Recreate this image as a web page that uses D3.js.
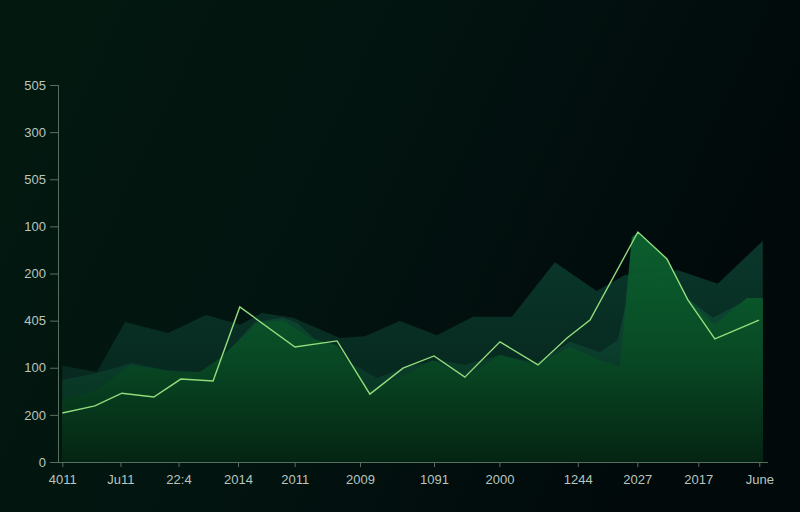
<!DOCTYPE html>
<html><head><meta charset="utf-8">
<script src="https://cdn.jsdelivr.net/npm/d3@7/dist/d3.min.js"></script>
<style>html,body{margin:0;padding:0;background:#020d0c;}svg{display:block;}</style>
</head><body>
<svg id="chart" width="800" height="512"></svg>
<script>
// ---- data ----
const categories = ["4011","Ju11","22:4","2014","2011","2009","1091","2000","1244","2027","2017","June"];
const categoryPos = [0, 2, 4, 6.05, 8, 10.25, 12.8, 15.05, 17.75, 19.8, 21.9, 24];
const yTickValues = [0, 100, 200, 300, 400, 500, 600, 700, 800];
const yTickLabels = ["0","200","100","405","200","100","505","300","505"];

const backX = [0,1.19,2.16,3.64,4.95,6.12,6.87,7.94,9.56,10.42,11.62,12.9,14.14,15.48,16.96,18.4,19.37,21.2,22.57,24.12];
const backV = [204,191,297,274,312,291,316,306,263,267,299,269,308,308,424,363,397,407,378,469];

const midX = [0,1.19,2.4,3.53,4.67,5.15,5.84,6.63,7.6,8.08,9.11,10.83,11.97,13.0,13.86,15.07,16.34,17.48,18.51,19.13,19.55,20.82,21.61,22.4,23.57,24.12];
const midV = [174,189,210,195,191,202,244,297,306,295,238,178,204,216,206,227,210,255,233,259,376,386,344,306,344,344];

const frontX = [0,1.19,2.33,3.02,3.95,4.74,5.32,6.11,6.7,7.6,8.53,9.46,10.59,11.63,12.76,13.86,15.07,16.34,17.48,18.51,19.2,19.61,19.82,20.82,21.54,22.47,23.57,24.12];
const frontV = [132,153,206,199,191,191,216,259,295,301,263,248,153,180,216,180,227,206,244,216,202,477,488,431,344,291,348,348];

const lineX = [0,1.12,2.05,3.15,4.08,5.19,6.11,8.01,9.46,10.59,11.73,12.8,13.86,15.07,16.38,17.38,18.17,19.82,20.82,21.54,22.47,23.99];
const lineV = [104,119,146,138,176,172,329,244,257,144,199,225,180,255,206,263,301,488,431,344,261,301];

// ---- drawing ----
const svg = d3.select("#chart");
const W = 800, H = 512;
const defs = svg.append("defs");

const bg = defs.append("linearGradient").attr("id","bg").attr("x1","0").attr("y1","0").attr("x2","1").attr("y2","0.3");
bg.append("stop").attr("offset","0").attr("stop-color","#03190f");
bg.append("stop").attr("offset","0.5").attr("stop-color","#021410");
bg.append("stop").attr("offset","1").attr("stop-color","#01090b");
svg.append("rect").attr("width",W).attr("height",H).attr("fill","url(#bg)");

const x = d3.scaleLinear().domain([-0.15, 24.3]).range([58, 768]);
const y = d3.scaleLinear().domain([0, 800]).range([462, 85]);

const fg = defs.append("linearGradient").attr("id","front").attr("gradientUnits","userSpaceOnUse")
  .attr("x1",0).attr("x2",0).attr("y1",y(500)).attr("y2",y(0));
fg.append("stop").attr("offset","0").attr("stop-color","#0c6431");
fg.append("stop").attr("offset","0.55").attr("stop-color","#084a24");
fg.append("stop").attr("offset","1").attr("stop-color","#042412");

const mg = defs.append("linearGradient").attr("id","mid").attr("gradientUnits","userSpaceOnUse")
  .attr("x1",0).attr("x2",0).attr("y1",y(400)).attr("y2",y(0));
mg.append("stop").attr("offset","0").attr("stop-color","#0f4d38");
mg.append("stop").attr("offset","1").attr("stop-color","#062c1c");

const bkg = defs.append("linearGradient").attr("id","back").attr("gradientUnits","userSpaceOnUse")
  .attr("x1",0).attr("x2",0).attr("y1",y(470)).attr("y2",y(0));
bkg.append("stop").attr("offset","0").attr("stop-color","#0b3a2d");
bkg.append("stop").attr("offset","1").attr("stop-color","#052018");

function series(xs, vs){ return xs.map((d,i)=>({x:d, v:vs[i]})); }
const area = d3.area().x(d=>x(d.x)).y0(y(0)).y1(d=>y(d.v));
const line = d3.line().x(d=>x(d.x)).y(d=>y(d.v));

svg.append("path").datum(series(backX, backV)).attr("d", area).attr("fill","url(#back)").attr("opacity",0.95);
svg.append("path").datum(series(midX, midV)).attr("d", area).attr("fill","url(#mid)").attr("opacity",0.9);
svg.append("path").datum(series(frontX, frontV)).attr("d", area).attr("fill","url(#front)").attr("opacity",0.95);
svg.append("path").datum(series(lineX, lineV)).attr("d", line)
  .attr("fill","none").attr("stroke","#93dc7c").attr("stroke-width",1.4).attr("stroke-linejoin","miter");

// axes
const axisColor = "#56705f";
const textColor = "#b9c6be";
const font = "'Liberation Sans', Arial, sans-serif";

const yAxis = svg.append("g").attr("transform","translate(58,0)")
  .call(d3.axisLeft(y).tickValues(yTickValues).tickSize(8).tickPadding(4)
    .tickFormat((d,i)=>yTickLabels[i]));
const xAxis = svg.append("g").attr("transform","translate(0,462)")
  .call(d3.axisBottom(x).tickValues(categoryPos).tickSize(5).tickPadding(8)
    .tickFormat((d,i)=>categories[i]));

[yAxis, xAxis].forEach(g=>{
  g.select(".domain").attr("stroke",axisColor).attr("stroke-width",1);
  g.selectAll(".tick line").attr("stroke",axisColor);
  g.selectAll(".tick text").attr("fill",textColor).style("font-family",font).style("font-size","13px");
});
xAxis.select(".domain").attr("d","M58,0.5H768");
yAxis.select(".domain").attr("d","M0.5,85V462");
</script>
</body></html>
